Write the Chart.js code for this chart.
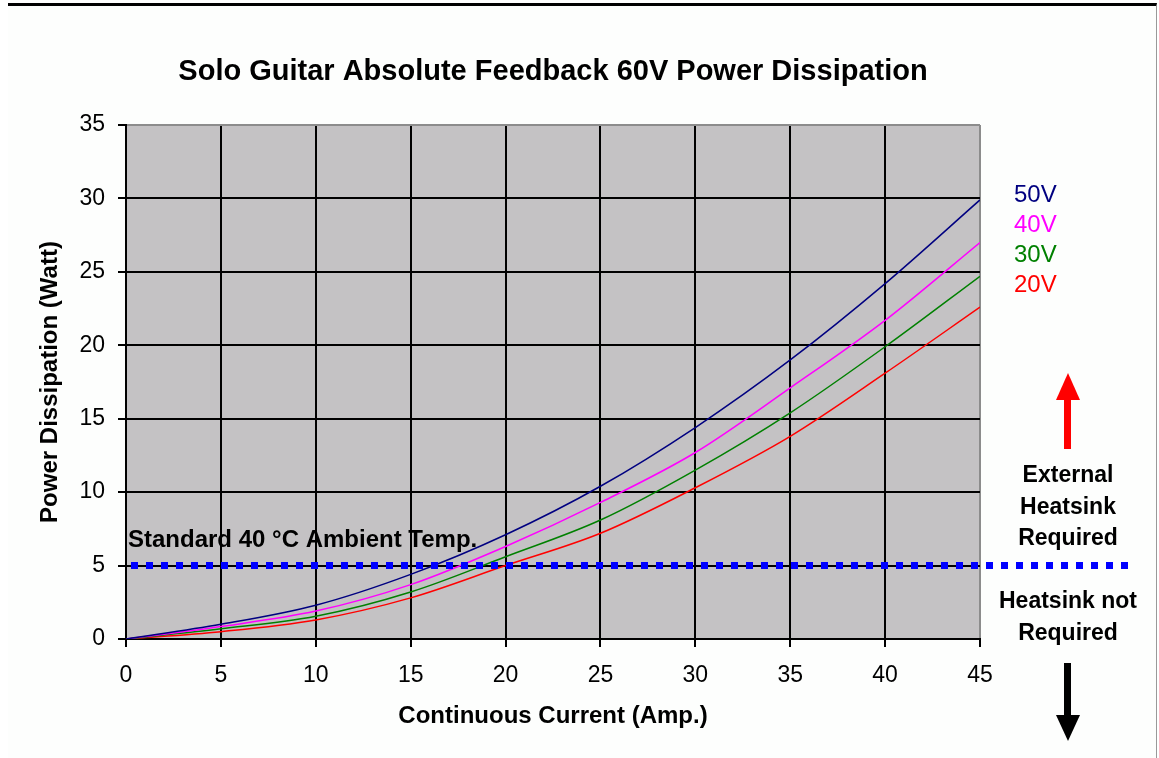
<!DOCTYPE html>
<html lang="en">
<head>
  <meta charset="UTF-8" />
  <title>Solo Guitar Absolute Feedback 60V Power Dissipation</title>
  <script src="https://cdn.jsdelivr.net/npm/chart.js"></script>
  <style>
    html, body { margin: 0; padding: 0; background: #fff; overflow: hidden; }
    #frame { position: absolute; left: 8px; top: 3px; width: 1148px; height: 760px;
             border-top: 3px solid #000; border-right: 1px solid #999; background: #fdfefd; }
    #chart { position: absolute; left: 0; top: 0; }
  </style>
</head>
<body>
  <div id="frame"></div>
  <canvas id="chart" width="1159" height="758"></canvas>

  <script>
    // current in amps
    const current = [0, 5, 10, 15, 20, 25, 30, 35, 40, 45];

    // power dissipation (W) per supply voltage
    const p50V = [0, 1.0, 2.3, 4.4, 7.1, 10.4, 14.4, 19.0, 24.2, 29.9];
    const p40V = [0, 0.85, 1.9, 3.7, 6.3, 9.3, 12.7, 17.1, 21.7, 27.0];
    const p30V = [0, 0.7, 1.55, 3.2, 5.6, 8.1, 11.5, 15.4, 19.9, 24.7];
    const p20V = [0, 0.5, 1.3, 2.8, 5.0, 7.2, 10.3, 13.8, 18.1, 22.6];

    const seriesLabels = ['50V', '40V', '30V', '20V'];
    const seriesColors = ['#000080', '#ff00ff', '#008000', '#ff0000'];

    // 40 C ambient limit, runs past the plot into the right margin
    const limitX = [0, 52.8];
    const limitY = [5, 5];

    const FONT = 'Arial, "Liberation Sans", sans-serif';

    const toPoints = (xs, ys) => xs.map((x, i) => ({ x: x, y: ys[i] }));

    const plotBg = {
      id: 'plotBg',
      beforeDraw(chart) {
        const { ctx, chartArea: a } = chart;
        ctx.save();
        ctx.fillStyle = '#c4c2c4';
        ctx.fillRect(a.left, a.top, a.right - a.left, a.bottom - a.top);
        ctx.restore();
      }
    };

    const notes = {
      id: 'notes',
      afterDraw(chart) {
        const ctx = chart.ctx;
        const y = chart.scales.y;
        ctx.save();
        ctx.textBaseline = 'middle';

        ctx.font = 'bold 24px ' + FONT;
        ctx.fillStyle = '#000';
        ctx.textAlign = 'left';
        ctx.fillText('Standard 40 \u00B0C Ambient Temp.', 128, y.getPixelForValue(5) - 25);

        // series labels at the right
        ctx.font = '24px ' + FONT;
        seriesLabels.forEach((s, i) => {
          ctx.fillStyle = seriesColors[i];
          ctx.fillText(s, 1014, 195 + i * 30);
        });

        ctx.fillStyle = '#000';
        ctx.textAlign = 'center';
        ctx.font = 'bold 23px ' + FONT;
        ['External', 'Heatsink', 'Required'].forEach((t, i) => ctx.fillText(t, 1068, 476 + i * 31.5));
        ['Heatsink not', 'Required'].forEach((t, i) => ctx.fillText(t, 1068, 602 + i * 31.5));

        // arrows
        ctx.fillStyle = '#ff0000';
        ctx.fillRect(1064, 398, 7, 51);
        ctx.beginPath();
        ctx.moveTo(1068, 373); ctx.lineTo(1080, 400); ctx.lineTo(1056, 400); ctx.closePath();
        ctx.fill();

        ctx.fillStyle = '#000';
        ctx.fillRect(1064, 663, 7, 53);
        ctx.beginPath();
        ctx.moveTo(1056, 715); ctx.lineTo(1080, 715); ctx.lineTo(1068, 741); ctx.closePath();
        ctx.fill();
        ctx.restore();
      }
    };

    const curveSets = [p50V, p40V, p30V, p20V].map((vals, i) => ({
      label: seriesLabels[i],
      data: toPoints(current, vals),
      borderColor: seriesColors[i],
      borderWidth: 1.5,
      pointRadius: 0,
      cubicInterpolationMode: 'monotone',
      fill: false
    }));

    new Chart(document.getElementById('chart').getContext('2d'), {
      type: 'line',
      data: {
        datasets: [{
          label: 'Ambient limit',
          data: toPoints(limitX, limitY),
          borderColor: '#0000ff',
          borderWidth: 7,
          borderDash: [7, 8],
          borderDashOffset: 10,
          borderCapStyle: 'butt',
          pointRadius: 0,
          clip: false
        }].concat(curveSets)
      },
      options: {
        responsive: false,
        animation: false,
        devicePixelRatio: 1,
        layout: { padding: { left: 0, top: 0, right: 179, bottom: 0 } },
        plugins: {
          legend: { display: false },
          tooltip: { enabled: false },
          title: {
            display: true,
            fullSize: false,
            text: 'Solo Guitar Absolute Feedback 60V Power Dissipation',
            color: '#000',
            font: { family: FONT, size: 29, weight: 'bold', lineHeight: 1.2 },
            padding: { top: 55, bottom: 35.2 }
          }
        },
        scales: {
          x: {
            type: 'linear',
            min: 0,
            max: 45,
            afterFit: (s) => { s.height = 119; },
            ticks: {
              stepSize: 5,
              color: '#000',
              padding: 15,
              maxRotation: 0,
              font: { family: FONT, size: 23 }
            },
            grid: {
              color: (c) => (c.tick && c.tick.value === 45 ? '#8c8c8c' : '#000'),
              tickColor: '#000',
              lineWidth: 2,
              tickLength: 8
            },
            border: { color: '#000', width: 2 },
            title: {
              display: true,
              text: 'Continuous Current (Amp.)',
              color: '#000',
              font: { family: FONT, size: 24, weight: 'bold', lineHeight: 1.2 },
              padding: { top: 0, bottom: 27.6 }
            }
          },
          y: {
            min: 0,
            max: 35,
            afterFit: (s) => { s.width = 126; },
            ticks: {
              stepSize: 5,
              color: '#000',
              padding: 13,
              font: { family: FONT, size: 23 }
            },
            grid: {
              color: (c) => (c.tick && c.tick.value === 35 ? '#8c8c8c' : '#000'),
              tickColor: '#000',
              lineWidth: 2,
              tickLength: 8
            },
            border: { color: '#000', width: 2 },
            title: {
              display: true,
              text: 'Power Dissipation (Watt)',
              color: '#000',
              font: { family: FONT, size: 24, weight: 'bold', lineHeight: 1.2 },
              padding: { top: 35.6, bottom: 0 }
            }
          }
        }
      },
      plugins: [plotBg, notes]
    });
  </script>
</body>
</html>
